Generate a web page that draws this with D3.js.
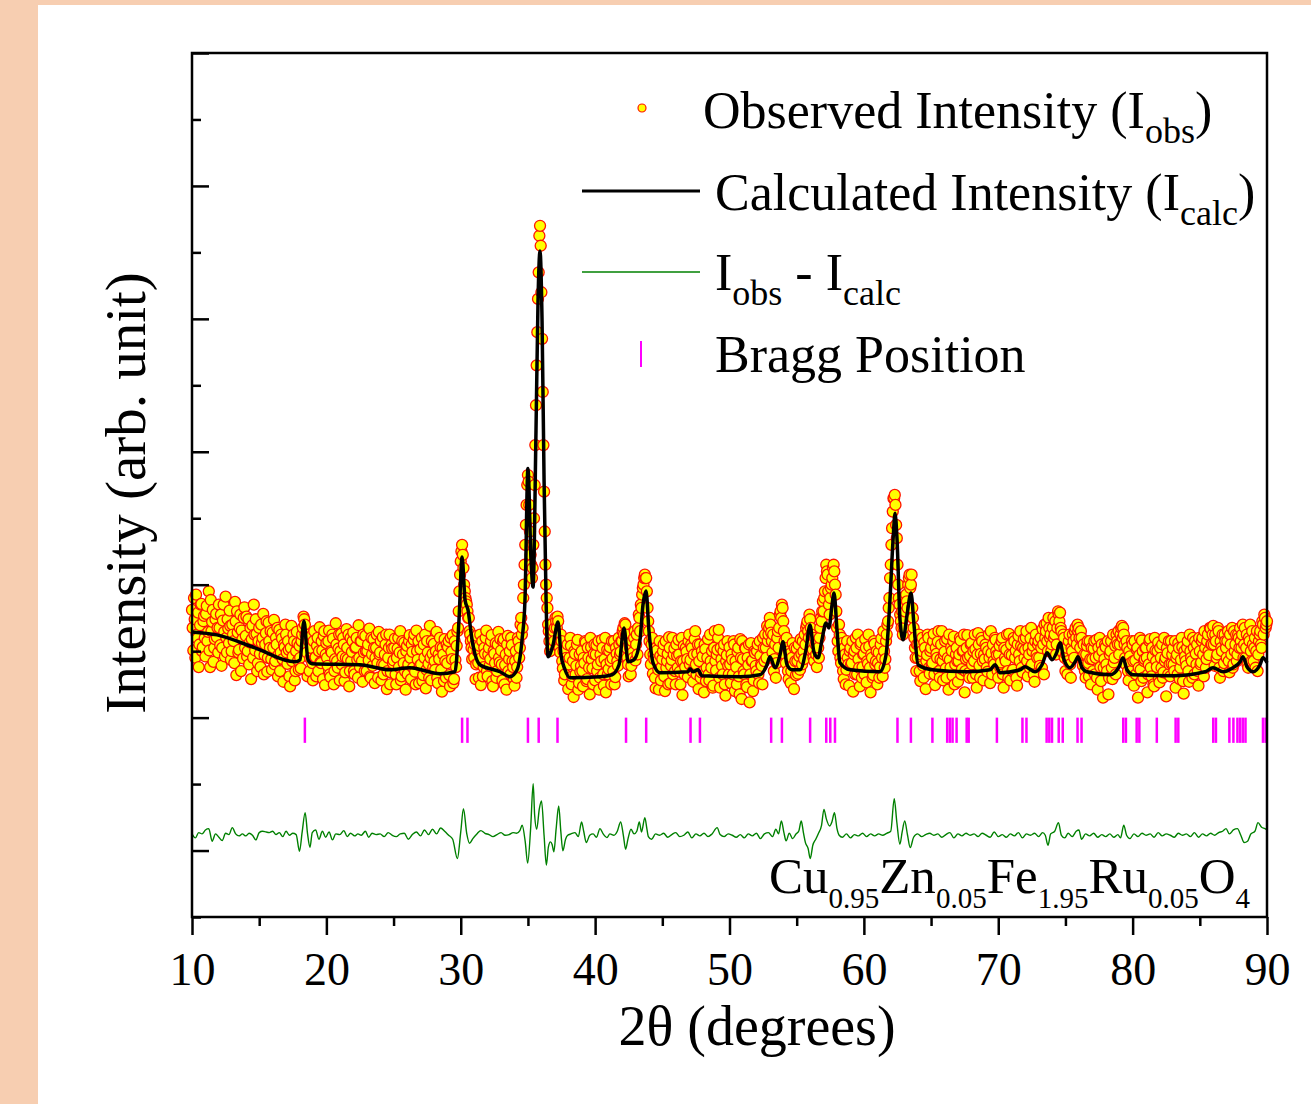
<!DOCTYPE html>
<html>
<head>
<meta charset="utf-8">
<script src="https://cdn.jsdelivr.net/npm/d3@7"></script>
<style>
body{margin:0;background:#fff;}
svg{display:block;}
</style>
</head>
<body>
<svg id="xrd" width="1311" height="1104"></svg>
<script>
// observed counts, 2theta from 10 to 90, step 0.1
var obsStart = 10, obsStep = 0.1
var obs = [
1620,1010,1480,1850,1190,760,1390,1710,1060,1530,
920,1680,1290,1010,1770,1440,840,1180,1560,1350,
1700,1090,780,1460,1290,1820,980,1340,1610,870,
1400,1150,1740,640,1280,1020,1550,1310,890,1660,
1230,920,1480,1130,580,1390,1700,1010,1260,820,
1350,760,1120,1560,940,1270,690,1430,1050,880,
1280,1470,850,1100,620,1320,980,1190,540,1060,
1250,810,1020,470,1380,920,1150,700,1290,860,
1080,740,1250,1520,1400,1060,620,1150,890,1230,
560,1300,910,1080,700,1360,820,1010,1230,490,
1120,780,1310,610,980,1190,700,1420,850,1040,
560,1260,920,1100,680,1330,880,470,1200,990,
1280,650,1060,870,1390,760,1150,540,980,1230,
700,1100,1340,600,950,1180,520,1050,820,1290,
980,560,1210,790,1100,430,900,1250,680,1040,
860,1190,500,1040,760,1300,620,950,1130,420,
1080,800,1240,580,990,1170,690,1310,870,520,
1030,1200,640,900,440,1150,810,1380,560,960,
1110,720,1290,520,880,1060,390,950,1180,600,
820,1150,470,990,1240,580,870,1080,1350,1900,
2350,2600,2250,1900,1750,1600,1500,1250,1050,1180,
900,580,1230,820,1080,490,1150,760,960,1310,
620,1050,880,1240,470,960,1120,700,1290,830,
1010,560,1180,790,420,1230,880,650,1090,760,
480,1000,760,1150,1050,1500,1350,2000,2600,3200,
3650,3200,2450,2100,2600,3500,4700,5800,6700,7400,
6400,4900,3400,2300,1800,1400,1150,1250,1100,1300,
1350,1450,1520,1200,980,1150,740,560,1020,850,
430,900,1080,620,310,960,780,1170,520,690,
1000,470,820,1130,580,900,350,1060,740,960,
560,1090,800,420,950,1170,650,880,380,1020,
730,1060,500,890,1150,610,960,780,1100,990,
1150,1350,1420,1250,900,620,1050,780,980,1200,
860,1250,1350,1500,1700,1850,2000,2150,2100,1650,
1300,950,1100,660,880,440,1010,720,1150,560,
880,1100,400,750,960,1210,520,870,650,1040,
500,930,1170,690,850,340,1080,760,990,610,
1250,870,1050,540,1180,800,960,430,1100,680,
920,380,1030,750,1180,560,850,1000,480,1300,
710,1020,1320,450,880,650,1100,330,940,780,
1060,520,870,1150,400,760,990,620,1180,280,
880,650,1040,460,790,230,1120,860,560,970,
700,1100,520,930,780,1200,850,1050,1380,1250,
1500,1280,980,700,1100,820,1300,1350,1600,1700,
1450,1150,820,1050,580,960,700,1120,430,850,
1040,660,920,1180,800,1000,1250,1350,1450,1200,
1480,1250,1020,850,1100,760,1050,1200,1500,1600,
1600,1900,2300,2150,1700,1800,2000,2250,2200,1850,
1350,1000,1250,820,1120,580,950,720,900,480,
1050,820,390,1000,1200,650,880,470,1130,760,
960,1180,530,810,1070,380,900,640,1110,850,
500,980,760,1190,620,1000,880,1250,1450,1800,
2300,2850,3300,3350,2900,2300,1800,1550,1350,1250,
1500,1700,1750,2000,2150,2000,1650,1350,1050,700,
900,1250,550,1000,780,1130,430,940,1200,660,
1050,820,1260,490,960,1140,700,880,1300,560,
990,740,1180,420,870,1060,630,1220,800,1050,
540,950,1160,730,1010,380,880,1240,670,930,
1120,600,850,1030,450,1270,780,960,1150,560,
880,1050,690,1250,520,970,1100,800,1170,940,
600,1080,830,1200,450,900,1020,700,1260,560,
940,720,1150,1010,480,1230,850,1080,680,1180,
1020,1300,620,950,1190,800,1080,540,1250,900,
1150,780,1050,1330,650,1200,1420,1000,1350,1250,
1100,1500,1250,950,1350,1550,1580,1300,980,1200,
700,1050,850,1250,600,1000,1150,1300,1200,1400,
1350,1050,1200,780,950,600,1080,820,1150,500,
880,1040,650,1170,420,930,760,1100,300,880,
1060,700,350,950,1150,580,830,1080,1250,1100,
950,1250,1380,1350,1100,800,1050,560,920,700,
1100,480,860,1020,300,940,720,1160,600,880,
1050,380,800,1180,620,920,470,1010,760,1130,
530,900,1100,680,850,320,970,1150,620,810,
1040,700,450,950,1120,580,870,1060,360,920,
780,1150,540,1000,850,1200,650,960,1100,480,
1000,830,1200,620,1050,880,1250,940,1340,1100,
1380,780,1150,950,1300,600,1050,1250,820,1150,
900,1300,680,1100,1350,800,1000,1250,950,1200,
1350,1050,1400,1100,900,1250,750,1150,1000,1300,
850,1200,1000,700,1150,1300,1050,1400,1550,1350,
1450]

// observed counts at the half steps, 10.05 to 89.95
var obsHalfStart = 10.05
var obsHalf = [
1350,1800,900,1250,1580,1100,1700,1000,1450,1200,
1560,1150,1900,760,1300,1620,1050,1480,1210,980,
1350,1550,1050,1700,920,1200,1480,1120,1380,1000,
1250,820,1450,1600,980,1350,700,1180,1500,1050,
1520,1000,800,1350,1180,900,1250,1480,700,1150,
960,1400,1200,650,1100,1450,900,1150,1300,720,
1050,800,1200,1350,950,700,1250,880,1100,1400,
980,1150,620,1050,850,1250,560,1000,1120,720,
900,1150,1350,1480,1250,980,1200,700,1050,820,
1150,900,620,1200,1000,830,1150,580,1300,950,
900,1150,650,1000,1250,500,880,1100,750,1250,
1000,800,1200,550,900,1050,1250,700,850,1150,
700,1050,1200,600,900,1150,850,1250,700,1000,
1000,860,620,1200,780,1050,900,1250,600,950,
1150,800,650,950,1250,700,1050,500,1100,820,
1050,650,900,1200,980,560,1150,820,700,1000,
650,1150,900,1100,750,1250,500,1000,1150,780,
800,550,1100,1250,720,980,600,900,1150,750,
850,1000,600,950,1200,720,1050,550,850,1100,
1060,640,1200,880,520,1150,760,1300,1600,2150,
2500,2450,2000,1800,1700,1500,1300,1150,880,1020,
1100,800,1000,600,1250,900,620,1050,1200,700,
950,780,1150,550,1000,820,600,1100,900,1180,
800,1150,500,950,1100,700,1000,1200,850,580,
850,600,1200,900,1400,1250,1800,2300,2900,3500,
3550,2800,2300,2250,3000,4100,5300,6300,7250,7100,
5700,4100,2800,2000,1650,1300,1000,1400,1250,1150,
1500,1350,1450,1050,1250,850,1000,650,900,1100,
800,1200,500,850,1000,650,1100,420,950,780,
700,900,1150,550,1050,750,1200,880,500,1100,
950,700,1150,600,850,1050,480,1200,800,650,
1000,850,1150,700,500,1050,850,1200,950,1150,
1300,1250,1400,1050,800,1100,650,1150,900,1300,
1100,950,1550,1300,1650,1950,2100,2100,1900,1450,
1150,800,1200,950,600,1050,850,420,930,760,
1000,620,1150,850,500,1050,780,1200,950,700,
1100,750,950,500,1200,850,650,1050,880,1150,
800,1100,700,950,1300,650,1100,850,600,1000,
700,1100,550,900,650,1250,750,450,1050,850,
950,1200,600,1050,780,1000,500,850,1150,650,
800,950,650,1100,850,500,1050,350,900,1150,
700,1050,500,900,1100,650,850,400,1000,780,
1000,650,1150,800,500,1050,1250,900,1150,1350,
1400,1150,1250,880,600,1200,1050,1550,1500,1650,
1300,950,1200,700,1000,520,900,780,1050,640,
850,1100,720,960,1150,880,1100,1400,1300,1550,
1350,1100,900,1200,950,1150,900,1350,1450,1750,
1800,2100,2200,1900,1550,1950,2100,2300,2000,1600,
1150,1400,900,1200,700,1050,500,1150,800,1000,
800,1150,950,650,1050,1250,750,1100,600,950,
650,1050,850,1250,750,950,600,1150,800,1000,
820,600,1100,900,1300,750,1150,1400,1650,2100,
2600,3100,3300,3200,2700,2000,1700,1450,1600,1350,
1600,1850,1650,2100,1950,2150,1500,1200,900,1100,
1100,700,950,1200,600,1050,850,1250,750,1000,
800,1150,650,1050,900,1300,600,1100,850,950,
1150,600,900,1250,750,1000,1150,500,950,850,
850,1200,650,1000,1250,700,1050,900,600,1100,
800,1000,1250,650,950,1100,600,1200,850,950,
1100,750,1000,900,1300,650,850,1200,1000,700,
950,750,1150,650,1050,850,1250,600,950,1100,
700,1200,900,600,1100,950,1300,750,1050,900,
1200,850,1050,750,1350,1000,650,1150,950,1100,
900,1200,750,1100,1400,1300,1150,1500,1200,1000,
1350,1200,1450,1100,1600,1450,1350,1050,1250,900,
950,650,1150,800,1050,1250,900,1350,1100,1300,
1200,1300,900,1100,700,950,1150,620,880,1050,
700,1150,900,600,1050,1200,550,1000,750,1100,
800,1150,600,1000,750,1250,900,650,1150,1300,
1100,1350,1200,1250,900,1150,700,1000,820,1150,
850,1150,650,1050,750,1200,550,1000,850,1050,
900,650,1150,750,1050,500,1200,850,1000,600,
1050,750,600,1200,900,1050,650,800,1150,950,
800,1150,900,650,1050,750,1200,550,1000,850,
1050,700,1250,900,600,1050,1150,800,700,1200,
800,1150,950,1300,750,1150,1000,1350,1100,1250,
1100,1250,900,1350,750,1150,1000,700,1250,1050,
1150,850,1250,950,750,1300,1100,850,1250,1050,
1150,1250,900,1350,1050,800,1200,1400,850,1100,
1050,750,1300,950,1250,1100,1450,1250,1500,1400]

// calculated profile [2theta, counts]
var calc = [
[10.0,1290],[11.86,1245],[14.69,1050],[17.67,840],[18.04,870],[18.33,1455],[18.63,870],[18.93,810],
[22.5,795],[24.73,720],[26.22,750],[28.46,660],[29.57,690],[29.87,1470],[30.1,2415],[30.32,1770],
[30.54,1620],[30.84,1170],[31.43,795],[32.92,690],[33.67,615],[34.19,720],[34.56,1170],[34.78,1770],
[35.0,3750],[35.23,2370],[35.38,1965],[35.6,4320],[35.75,6270],[35.9,7020],[36.05,5970],[36.2,3570],
[36.35,1770],[36.49,915],[36.87,1095],[37.24,1440],[37.46,945],[37.76,720],[38.13,600],[40.36,615],
[41.26,645],[41.78,795],[42.15,1350],[42.45,840],[42.89,870],[43.34,1170],[43.56,1695],[43.79,1905],
[44.0,1320],[44.31,825],[44.83,675],[46.91,690],[47.06,735],[47.28,690],[47.66,720],[47.95,630],
[50.78,615],[52.27,645],[52.79,795],[53.01,915],[53.39,750],[53.76,945],[53.98,1140],[54.28,795],
[54.65,720],[55.25,720],[55.69,1020],[55.99,1395],[56.28,990],[56.59,900],[56.88,1170],[57.18,1425],
[57.4,1350],[57.63,1695],[57.78,1875],[58.0,1320],[58.22,825],[58.97,720],[61.2,690],[61.65,945],
[61.94,1770],[62.17,2670],[62.32,3075],[62.47,2670],[62.69,1470],[62.92,1170],[63.21,1545],[63.51,1875],
[63.73,1395],[64.03,795],[65.07,720],[67.67,690],[69.39,720],[69.76,795],[70.13,675],[71.62,720],
[71.99,765],[72.74,690],[73.26,795],[73.63,975],[74.0,870],[74.37,990],[74.6,1125],[74.9,870],
[75.34,750],[75.72,840],[75.94,915],[76.23,750],[76.6,690],[78.32,645],[78.99,765],[79.28,900],
[79.58,720],[80.03,645],[83.0,630],[85.39,690],[85.98,750],[86.73,690],[87.47,750],[88.0,840],
[88.21,915],[88.51,765],[88.96,690],[89.48,795],[89.7,900],[90.0,825]]

// I_obs - I_calc [2theta, counts], drawn shifted by diffOffset
var diffOffset = -1770
var diff = [
[10.0,20],[10.25,-40],[10.5,40],[10.75,20],[11.0,80],[11.25,100],[11.5,-90],[11.75,20],[12.0,-30],[12.25,-80],
[12.5,30],[12.75,10],[13.0,115],[13.25,20],[13.5,-10],[13.75,20],[14.0,-10],[14.25,30],[14.5,0],[14.75,-70],
[15.0,40],[15.25,60],[15.5,50],[15.75,40],[16.0,60],[16.25,10],[16.5,40],[16.75,-20],[17.0,60],[17.25,0],
[17.5,30],[17.75,10],[18.0,-240],[18.2,50],[18.42,340],[18.6,20],[18.78,-180],[18.95,40],[19.2,80],[19.45,-60],
[19.7,60],[19.95,-30],[20.2,50],[20.45,-70],[20.7,20],[21.0,10],[21.3,70],[21.55,-20],[21.8,30],[22.1,-10],
[22.35,20],[22.6,0],[22.9,60],[23.15,-30],[23.4,30],[23.7,10],[24.0,20],[24.3,-20],[24.6,40],[24.9,0],
[25.2,-20],[25.5,20],[25.8,30],[26.1,-60],[26.4,10],[26.7,50],[27.0,-10],[27.3,80],[27.6,10],[27.9,90],
[28.2,20],[28.5,110],[28.8,60],[29.1,0],[29.4,-60],[29.75,-350],[30.0,50],[30.2,400],[30.45,20],[30.65,-120],
[30.9,-50],[31.2,20],[31.5,70],[31.8,30],[32.1,10],[32.4,-20],[32.7,10],[33.0,40],[33.3,0],[33.6,10],
[33.9,40],[34.15,30],[34.4,70],[34.57,150],[34.8,-100],[34.98,-420],[35.2,100],[35.39,775],[35.5,300],[35.65,90],
[35.85,400],[36.01,515],[36.2,0],[36.37,-450],[36.52,-180],[36.67,-100],[36.8,-140],[36.93,-250],[37.1,100],[37.29,440],
[37.45,50],[37.6,-235],[37.8,-60],[37.96,0],[38.2,20],[38.5,40],[38.75,-20],[38.99,200],[39.15,60],[39.34,-110],
[39.6,0],[39.85,20],[40.1,-30],[40.36,100],[40.6,20],[40.88,-35],[41.1,20],[41.4,0],[41.65,60],[41.9,200],
[42.1,0],[42.27,-210],[42.45,-50],[42.67,90],[42.9,20],[43.1,60],[43.29,200],[43.45,50],[43.7,265],[43.85,100],
[43.96,-20],[44.2,-60],[44.5,20],[44.8,0],[45.1,30],[45.4,-30],[45.7,10],[46.0,40],[46.3,-20],[46.6,0],
[46.9,50],[47.2,-40],[47.5,20],[47.8,-10],[48.1,30],[48.4,-20],[48.7,20],[49.08,115],[49.3,10],[49.6,-20],
[49.9,20],[50.2,0],[50.5,-30],[50.8,10],[51.1,-40],[51.4,20],[51.7,-10],[52.0,30],[52.3,-50],[52.6,20],
[52.9,40],[53.2,-20],[53.45,90],[53.65,20],[53.86,215],[54.05,40],[54.21,-85],[54.45,30],[54.7,-50],[54.95,20],
[55.15,60],[55.34,215],[55.5,40],[55.65,-110],[55.85,-200],[56.01,-350],[56.2,-150],[56.42,-60],[56.6,20],[56.85,150],
[57.03,390],[57.2,250],[57.45,140],[57.62,200],[57.81,340],[58.0,100],[58.16,0],[58.4,-30],[58.7,20],[59.0,-40],
[59.3,10],[59.6,-10],[59.9,30],[60.2,-20],[60.5,20],[60.8,-10],[61.1,20],[61.4,0],[61.7,30],[62.0,60],
[62.26,550],[62.45,200],[62.68,-135],[62.85,50],[63.04,215],[63.25,0],[63.45,-185],[63.7,-30],[64.0,20],[64.3,-20],
[64.6,10],[64.9,30],[65.2,0],[65.5,20],[65.8,-30],[66.1,10],[66.4,40],[66.7,-40],[67.0,20],[67.3,-10],
[67.6,30],[67.9,0],[68.2,20],[68.5,-20],[68.8,30],[69.1,0],[69.4,-30],[69.7,50],[70.0,-20],[70.3,10],
[70.6,-30],[70.9,20],[71.2,-10],[71.5,40],[71.8,-40],[72.1,20],[72.4,0],[72.7,30],[73.0,-20],[73.3,40],
[73.5,0],[73.7,-150],[73.9,20],[74.2,60],[74.48,190],[74.7,0],[74.95,-40],[75.2,30],[75.5,-20],[75.8,60],
[76.0,80],[76.2,-60],[76.5,20],[76.8,-10],[77.1,30],[77.4,-30],[77.7,10],[78.0,-20],[78.3,20],[78.6,-30],
[78.9,10],[79.1,-40],[79.34,150],[79.55,0],[79.8,-50],[80.1,20],[80.4,-20],[80.7,30],[81.0,0],[81.3,20],
[81.6,-30],[81.9,40],[82.2,-10],[82.5,20],[82.8,0],[83.1,-30],[83.4,30],[83.7,0],[84.0,20],[84.3,-20],
[84.6,40],[84.9,-30],[85.2,20],[85.5,-10],[85.8,30],[86.1,0],[86.4,40],[86.7,60],[86.95,100],[87.2,20],
[87.5,80],[87.8,100],[88.05,0],[88.3,-110],[88.55,-90],[88.8,20],[89.1,60],[89.33,190],[89.6,120],[89.85,100],
[90.0,80]]

// Bragg reflections (2theta)
var bragg = [18.4,30.1,30.5,35.0,35.8,37.2,42.3,43.8,47.1,47.8,53.1,53.9,56.0,57.2,57.5,57.85,
62.5,63.5,65.1,66.2,66.4,66.6,66.9,67.65,67.8,69.9,71.8,72.1,73.6,73.8,74.0,74.5,74.8,75.9,76.2,
79.3,79.5,80.3,80.5,81.8,83.2,83.4,86.0,86.2,87.2,87.5,87.8,88.0,88.2,88.4,89.7,89.9]
var braggTop = 0, braggBottom = -380

var xTicks = [10,20,30,40,50,60,70,80,90]
var xMinor = [15,25,35,45,55,65,75,85]
var yMajor = [-2000,0,2000,4000,6000,8000,10000]
var yMinor = [-3000,-1000,1000,3000,5000,7000,9000]

var formula = [['Cu','0.95'],['Zn','0.05'],['Fe','1.95'],['Ru','0.05'],['O','4']]

function chart(){
	var serif = "'Liberation Serif','Times New Roman',serif"
	var svg = d3.select('svg#xrd')
	var left = 192, right = 1267, top = 53, bottom = 917

	// peach page border
	svg.append('rect').attr('x',0).attr('y',0).attr('width',38).attr('height',1104).style('fill','#F7CEB1')
	svg.append('rect').attr('x',0).attr('y',0).attr('width',1311).attr('height',5).style('fill','#F7CEB1')

	var x = d3.scaleLinear().domain([10,90]).range([left,right])
	var y = d3.scaleLinear().domain([-3000,10000]).range([bottom,top])

	var pts = obs.map(function(v,i){return {t: obsStart + i*obsStep, v: v}})
		.concat(obsHalf.map(function(v,i){return {t: obsHalfStart + i*obsStep, v: v}}))
		.sort(function(a,b){return a.t - b.t})

	var g = svg.append('g')
	g.selectAll('.obs')
		.data(pts)
		.enter()
		.append('circle')
		.attr('class','obs')
		.attr('cx',function(d){return x(d.t)})
		.attr('cy',function(d){return y(d.v)})
		.attr('r',5.5)
		.style('fill','#FFFF00')
		.style('stroke','#FF1500')
		.style('stroke-width',1.3)

	var line = d3.line()
		.x(function(d){return x(d[0])})
		.y(function(d){return y(d[1])})
		.curve(d3.curveMonotoneX)
	g.append('path')
		.attr('d',line(calc))
		.style('fill','none')
		.style('stroke','#000')
		.style('stroke-width',3.5)
		.style('stroke-linejoin','round')

	g.selectAll('.bragg')
		.data(bragg)
		.enter()
		.append('line')
		.attr('x1',function(d){return x(d)})
		.attr('x2',function(d){return x(d)})
		.attr('y1',y(braggTop))
		.attr('y2',y(braggBottom))
		.style('stroke','#FF00FF')
		.style('stroke-width',2.5)

	var dline = d3.line()
		.x(function(d){return x(d[0])})
		.y(function(d){return y(d[1] + diffOffset)})
		.curve(d3.curveMonotoneX)
	g.append('path')
		.attr('d',dline(diff))
		.style('fill','none')
		.style('stroke','#008000')
		.style('stroke-width',1.4)

	// axes
	var xa = svg.append('g').attr('transform','translate(0,'+bottom+')')
		.call(d3.axisBottom(x).tickValues(xTicks).tickSize(18).tickFormat(d3.format('d')))
	xa.select('.domain').remove()
	xa.selectAll('line').style('stroke','#000').style('stroke-width',2.5)
	xa.selectAll('text').attr('y',68).attr('dy',0)
		.style('font-family',serif).style('font-size','46px').style('fill','#000')
	var xm = svg.append('g').attr('transform','translate(0,'+bottom+')')
		.call(d3.axisBottom(x).tickValues(xMinor).tickSize(9).tickFormat(''))
	xm.select('.domain').remove()
	xm.selectAll('line').style('stroke','#000').style('stroke-width',2.5)

	var ya = svg.append('g').attr('transform','translate('+left+',0)')
		.call(d3.axisRight(y).tickValues(yMajor).tickSize(17).tickFormat(''))
	ya.select('.domain').remove()
	ya.selectAll('line').style('stroke','#000').style('stroke-width',2.5)
	var ym = svg.append('g').attr('transform','translate('+left+',0)')
		.call(d3.axisRight(y).tickValues(yMinor).tickSize(9).tickFormat(''))
	ym.select('.domain').remove()
	ym.selectAll('line').style('stroke','#000').style('stroke-width',2.5)

	svg.append('rect')
		.attr('x',left).attr('y',top).attr('width',right-left).attr('height',bottom-top)
		.style('fill','none').style('stroke','#000').style('stroke-width',2.5)

	// axis titles
	svg.append('text')
		.attr('x',757).attr('y',1045)
		.attr('text-anchor','middle')
		.style('font-family',serif).style('font-size','56px')
		.text('2\u03B8 (degrees)')
	svg.append('text')
		.attr('transform','translate(145,493) rotate(-90)')
		.attr('text-anchor','middle')
		.style('font-family',serif).style('font-size','57px')
		.text('Intensity (arb. unit)')

	// legend
	var lg = svg.append('g').style('font-family',serif).style('font-size','52px')
	lg.append('circle').attr('cx',642).attr('cy',108).attr('r',4)
		.style('fill','#FFFF00').style('stroke','#FF1500').style('stroke-width',1.2)
	var t1 = lg.append('text').attr('x',703).attr('y',128)
	t1.append('tspan').text('Observed Intensity (I')
	t1.append('tspan').attr('dy',15).style('font-size','36px').text('obs')
	t1.append('tspan').attr('dy',-15).text(')')

	lg.append('line').attr('x1',582).attr('x2',700).attr('y1',191).attr('y2',191)
		.style('stroke','#000').style('stroke-width',3)
	var t2 = lg.append('text').attr('x',715).attr('y',210)
	t2.append('tspan').text('Calculated Intensity (I')
	t2.append('tspan').attr('dy',15).style('font-size','36px').text('calc')
	t2.append('tspan').attr('dy',-15).text(')')

	lg.append('line').attr('x1',582).attr('x2',700).attr('y1',272).attr('y2',272)
		.style('stroke','#008000').style('stroke-width',1.4)
	var t3 = lg.append('text').attr('x',715).attr('y',290)
	t3.append('tspan').text('I')
	t3.append('tspan').attr('dy',15).style('font-size','36px').text('obs')
	t3.append('tspan').attr('dy',-15).text(' - I')
	t3.append('tspan').attr('dy',15).style('font-size','36px').text('calc')

	lg.append('line').attr('x1',641).attr('x2',641).attr('y1',341).attr('y2',367)
		.style('stroke','#FF00FF').style('stroke-width',2)
	lg.append('text').attr('x',715).attr('y',372).text('Bragg Position')

	// sample formula
	var f = svg.append('text').attr('x',1250).attr('y',893)
		.attr('text-anchor','end')
		.style('font-family',serif).style('font-size','51px')
	formula.forEach(function(p,i){
		f.append('tspan').attr('dy',i === 0 ? 0 : -15).text(p[0])
		f.append('tspan').attr('dy',15).style('font-size','29px').text(p[1])
	})
}
chart()
</script>
</body>
</html>
